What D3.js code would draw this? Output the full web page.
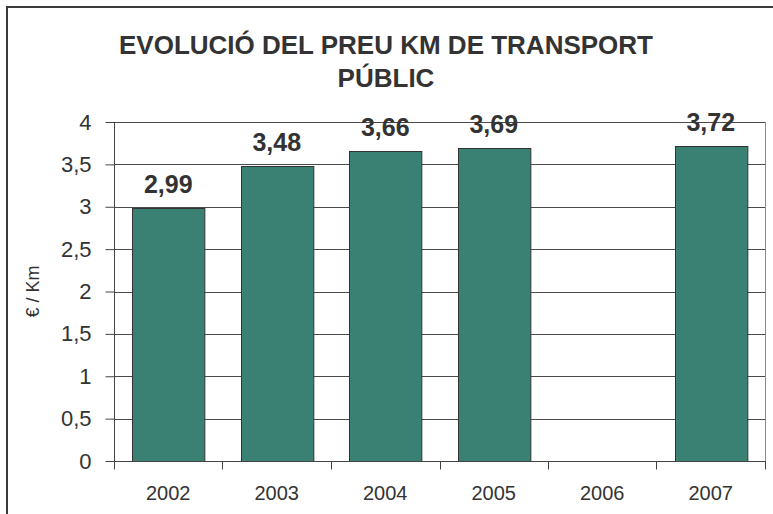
<!DOCTYPE html>
<html>
<head>
<meta charset="utf-8">
<script src="https://cdn.jsdelivr.net/npm/d3@7"></script>
<style>
  html, body { margin: 0; padding: 0; background: #fff; }
  svg { display: block; font-family: "Liberation Sans", Arial, Helvetica, sans-serif; }
</style>
</head>
<body>
<svg id="chart" width="773" height="514"></svg>
<script>
// Annual price per km of public transport (2006 has no figure)
const years = ["2002", "2003", "2004", "2005", "2006", "2007"];
const prices = [2.99, 3.48, 3.66, 3.69, null, 3.72];
const yTicks = [0, 0.5, 1, 1.5, 2, 2.5, 3, 3.5, 4];
const titleLines = ["EVOLUCIÓ DEL PREU KM DE TRANSPORT", "PÚBLIC"];
const yAxisTitle = "€ / Km";

const W = 773, H = 514;
const plot = { left: 114, right: 765, top: 122, bottom: 461 };
const fmt = v => String(v).replace(".", ",");

const svg = d3.select("#chart");

// Chart frame
svg.append("rect")
  .attr("x", 7).attr("y", 7)
  .attr("width", W + 20).attr("height", H + 20)
  .attr("fill", "#fff").attr("stroke", "#3a3a3a").attr("stroke-width", 2);

const x = d3.scaleBand()
  .domain(years)
  .range([plot.left, plot.right])
  .paddingInner(1 / 3)
  .paddingOuter(1 / 6);

const y = d3.scaleLinear().domain([0, 4]).range([plot.bottom, plot.top]);

// Horizontal gridlines
svg.append("g")
  .selectAll("line")
  .data(yTicks.filter(t => t > 0))
  .join("line")
  .attr("x1", plot.left).attr("x2", plot.right)
  .attr("y1", d => Math.round(y(d)) + 0.5).attr("y2", d => Math.round(y(d)) + 0.5)
  .attr("stroke", "#4a4a4a").attr("stroke-width", 1);

// Right edge of plot area
svg.append("line")
  .attr("x1", plot.right + 0.5).attr("x2", plot.right + 0.5)
  .attr("y1", plot.top).attr("y2", plot.bottom)
  .attr("stroke", "#8a8a8a").attr("stroke-width", 1);

// Bars
const data = years.map((yr, i) => ({ year: yr, value: prices[i] }));
svg.append("g")
  .selectAll("rect")
  .data(data.filter(d => d.value != null))
  .join("rect")
  .attr("x", d => Math.round(x(d.year)) + 0.5)
  .attr("y", d => Math.round(y(d.value)) + 0.5)
  .attr("width", x.bandwidth())
  .attr("height", d => plot.bottom - Math.round(y(d.value)))
  .attr("fill", "#3a8174")
  .attr("stroke", "#333").attr("stroke-width", 1);

// Value labels
svg.append("g")
  .selectAll("text")
  .data(data.filter(d => d.value != null))
  .join("text")
  .attr("x", d => x(d.year) + x.bandwidth() / 2)
  .attr("y", d => y(d.value) - 15)
  .attr("text-anchor", "middle")
  .attr("font-size", 25).attr("font-weight", "bold")
  .attr("fill", "#333")
  .text(d => fmt(d.value));

// Y axis
const yAxis = d3.axisLeft(y).tickValues(yTicks).tickSize(9).tickPadding(14).tickFormat(fmt);
const gy = svg.append("g").attr("transform", `translate(${plot.left + 0.5},0)`).call(yAxis);
gy.select(".domain").attr("stroke", "#444").attr("d", `M0,${plot.top}V${plot.bottom + 7}`);
gy.selectAll(".tick line").attr("stroke", "#444");
gy.selectAll(".tick text")
  .attr("font-size", 22).attr("fill", "#333")
  .attr("font-family", "Liberation Sans, Arial, sans-serif");

// X axis
const xAxis = d3.axisBottom(x).tickSize(0).tickPadding(24);
const gx = svg.append("g").attr("transform", `translate(0,${plot.bottom + 0.5})`).call(xAxis);
gx.select(".domain").attr("stroke", "#444").attr("d", `M${plot.left},0H${plot.right + 1}`);
gx.selectAll(".tick text")
  .attr("font-size", 20).attr("fill", "#333")
  .attr("font-family", "Liberation Sans, Arial, sans-serif");
// Category separators below the axis
const edges = years.map(yr => x(yr) - x.step() * x.paddingInner() / 2).concat([plot.right]);
gx.append("g").selectAll("line")
  .data(edges)
  .join("line")
  .attr("x1", d => Math.round(d) + 0.5).attr("x2", d => Math.round(d) + 0.5)
  .attr("y1", 0).attr("y2", 8)
  .attr("stroke", "#444");

// Y axis title
svg.append("text")
  .attr("transform", `translate(39,${(plot.top + plot.bottom) / 2}) rotate(-90)`)
  .attr("text-anchor", "middle")
  .attr("font-size", 18).attr("fill", "#333")
  .text(yAxisTitle);

// Title
svg.append("g")
  .selectAll("text")
  .data(titleLines)
  .join("text")
  .attr("x", 386)
  .attr("y", (d, i) => 54 + i * 33)
  .attr("text-anchor", "middle")
  .attr("font-size", 26).attr("font-weight", "bold")
  .attr("fill", "#333")
  .text(d => d);
</script>
</body>
</html>
